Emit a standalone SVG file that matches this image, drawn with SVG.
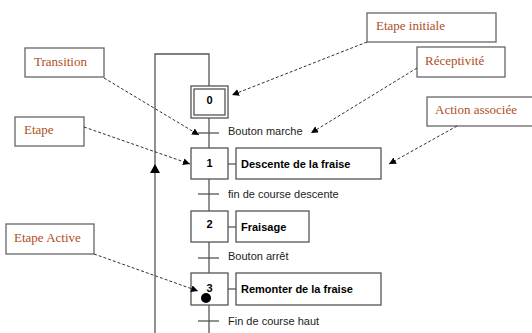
<svg xmlns="http://www.w3.org/2000/svg" width="532" height="333" viewBox="0 0 532 333">
<style>
.lbl{fill:#fff;stroke:#666;stroke-width:1.3}
.lt{font-family:"Liberation Serif",serif;font-size:13px;fill:#b04e22}
.box{fill:#fff;stroke:#555;stroke-width:1.3}
.ln{stroke:#555;stroke-width:1.3;fill:none}
.num{font-family:"Liberation Sans",sans-serif;font-size:11px;font-weight:bold;fill:#000;text-anchor:middle}
.act{font-family:"Liberation Sans",sans-serif;font-size:11px;font-weight:bold;fill:#000}
.tr{font-family:"Liberation Sans",sans-serif;font-size:11px;fill:#222}
.dash{stroke:#333;stroke-width:1;stroke-dasharray:3,2;fill:none;marker-end:url(#ah)}
</style>
<defs>
<marker id="ah" viewBox="0 0 10 10" refX="10" refY="5" markerWidth="7" markerHeight="7" markerUnits="userSpaceOnUse" orient="auto">
<path d="M0,0 L10,5 L0,10 z" fill="#000"/>
</marker>
</defs>
<rect width="532" height="333" fill="#fff"/>
<g id="grafcet-lines">
<path class="ln" d="M155,333 V54 H209 V86"/>
<path d="M155,164 L150,173 L160,173 z" fill="#000"/>
<line class="ln" x1="209" y1="118" x2="209" y2="148"/>
<line class="ln" x1="198" y1="133" x2="219" y2="133"/>
<line class="ln" x1="209" y1="179" x2="209" y2="211"/>
<line class="ln" x1="198" y1="194" x2="219" y2="194"/>
<line class="ln" x1="209" y1="242" x2="209" y2="273"/>
<line class="ln" x1="198" y1="258" x2="219" y2="258"/>
<line class="ln" x1="209" y1="305" x2="209" y2="333"/>
<line class="ln" x1="198" y1="321" x2="219" y2="321"/>
<line class="ln" x1="228" y1="164" x2="236" y2="164"/>
<line class="ln" x1="228" y1="227" x2="236" y2="227"/>
<line class="ln" x1="228" y1="289" x2="236" y2="289"/>
</g>
<g id="step0">
<rect class="box" x="191" y="86" width="37" height="32"/>
<rect class="box" x="194" y="89" width="31" height="26"/>
<text class="num" x="209.5" y="104">0</text>
</g>
<g id="step1">
<rect class="box" x="191" y="148" width="37" height="31"/>
<text class="num" x="209.5" y="167">1</text>
</g>
<g id="action1">
<rect class="box" x="236" y="148" width="145" height="31"/>
<text class="act" x="241" y="168">Descente de la fraise</text>
</g>
<g id="step2">
<rect class="box" x="191" y="211" width="37" height="31"/>
<text class="num" x="209.5" y="228">2</text>
</g>
<g id="action2">
<rect class="box" x="236" y="211" width="73" height="31"/>
<text class="act" x="241" y="231">Fraisage</text>
</g>
<g id="step3">
<rect class="box" x="191" y="273" width="37" height="32"/>
<text class="num" x="209.5" y="292">3</text>
<circle cx="206" cy="298" r="5" fill="#000"/>
</g>
<g id="action3">
<rect class="box" x="236" y="273" width="145" height="32"/>
<text class="act" x="241" y="293">Remonter de la fraise</text>
</g>
<g id="transitions">
<text class="tr" x="228" y="135">Bouton marche</text>
<text class="tr" x="228" y="198">fin de course descente</text>
<text class="tr" x="228" y="260">Bouton arrêt</text>
<text class="tr" x="228" y="325">Fin de course haut</text>
</g>
<g id="label-transition">
<rect class="lbl" x="25" y="48" width="79" height="29"/>
<text class="lt" x="34" y="66">Transition</text>
</g>
<g id="label-etape">
<rect class="lbl" x="15" y="117" width="69" height="29"/>
<text class="lt" x="24" y="134">Etape</text>
</g>
<g id="label-etape-active">
<rect class="lbl" x="6" y="224" width="88" height="30"/>
<text class="lt" x="14" y="242">Etape Active</text>
</g>
<g id="label-etape-initiale">
<rect class="lbl" x="367" y="13" width="129" height="29"/>
<text class="lt" x="376" y="30">Etape initiale</text>
</g>
<g id="label-receptivite">
<rect class="lbl" x="417" y="47" width="88" height="30"/>
<text class="lt" x="425" y="65">Réceptivité</text>
</g>
<g id="label-action">
<rect class="lbl" x="427" y="97" width="110" height="29"/>
<text class="lt" x="435" y="114">Action associée</text>
</g>
<g id="connectors">
<line class="dash" x1="367" y1="42" x2="232" y2="95"/>
<line class="dash" x1="417" y1="68" x2="311" y2="133"/>
<line class="dash" x1="457" y1="126" x2="389" y2="164"/>
<line class="dash" x1="104" y1="78" x2="199" y2="135"/>
<line class="dash" x1="84" y1="127" x2="190" y2="164"/>
<line class="dash" x1="94" y1="254" x2="198" y2="291"/>
</g>
</svg>
